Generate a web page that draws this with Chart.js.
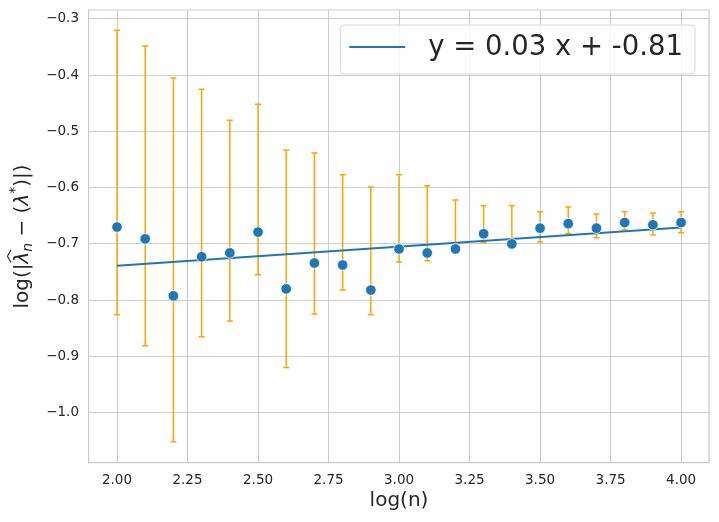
<!DOCTYPE html>
<html>
<head>
<meta charset="utf-8">
<script src="https://cdn.jsdelivr.net/npm/chart.js@4/dist/chart.umd.min.js"></script>
<style>
  html, body { margin: 0; padding: 0; background: #ffffff; }
  #wrap { position: relative; width: 719px; height: 522px; }
</style>
</head>
<body>
<div id="wrap"><canvas id="c"></canvas></div>
<script>
// ---- data ----
const logN = [2.0, 2.1, 2.2, 2.3, 2.4, 2.5, 2.6, 2.7, 2.8, 2.9, 3.0, 3.1, 3.2, 3.3, 3.4, 3.5, 3.6, 3.7, 3.8, 3.9, 4.0];
const logErr = [-0.670, -0.691, -0.7925, -0.723, -0.716, -0.679, -0.780, -0.734, -0.7375, -0.782, -0.709, -0.716, -0.709, -0.682, -0.700, -0.672, -0.664, -0.672, -0.662, -0.666, -0.662];
const errLow = [-0.826, -0.881, -1.052, -0.865, -0.837, -0.755, -0.920, -0.8245, -0.782, -0.826, -0.732, -0.730, -0.698, -0.698, -0.696, -0.6966, -0.682, -0.689, -0.675, -0.684, -0.680];
const errHigh = [-0.320, -0.348, -0.405, -0.425, -0.480, -0.4515, -0.533, -0.5385, -0.577, -0.599, -0.577, -0.5966, -0.622, -0.632, -0.632, -0.643, -0.6345, -0.647, -0.643, -0.645, -0.643];
const fitX = [2.0, 4.0];
const fitY = [-0.739, -0.671];
const fitLabel = 'y = 0.03 x + -0.81';
const xTicks = [2.00, 2.25, 2.50, 2.75, 3.00, 3.25, 3.50, 3.75, 4.00];
const yTicks = [-1.0, -0.9, -0.8, -0.7, -0.6, -0.5, -0.4, -0.3];
const xTitle = 'log(n)';

const FONT = "'DejaVu Sans', sans-serif";
const TXT = '#262626';
const GRID = '#cccccc';
const BLUE = '#1f77b4';
const ORANGE = '#FFA500';

const errorBarPlugin = {
  id: 'errorBars',
  beforeDatasetsDraw(chart) {
    const ctx = chart.ctx, xs = chart.scales.x, ys = chart.scales.y, area = chart.chartArea;
    ctx.save();
    // top and right spines
    ctx.strokeStyle = GRID;
    ctx.lineWidth = 1.2;
    ctx.beginPath();
    ctx.moveTo(area.left, area.top); ctx.lineTo(area.right, area.top); ctx.lineTo(area.right, area.bottom);
    ctx.stroke();
    ctx.strokeStyle = ORANGE;
    ctx.lineWidth = 1.5;
    for (let i = 0; i < logN.length; i++) {
      const px = xs.getPixelForValue(logN[i]);
      const y1 = ys.getPixelForValue(errLow[i]);
      const y2 = ys.getPixelForValue(errHigh[i]);
      ctx.beginPath();
      ctx.moveTo(px, y1); ctx.lineTo(px, y2);
      ctx.moveTo(px - 3, y1); ctx.lineTo(px + 3, y1);
      ctx.moveTo(px - 3, y2); ctx.lineTo(px + 3, y2);
      ctx.stroke();
    }
    ctx.restore();
  }
};

const decorPlugin = {
  id: 'decor',
  afterDraw(chart) {
    const ctx = chart.ctx, area = chart.chartArea;
    // ---- legend box ----
    const ds = chart.data.datasets[0];
    ctx.save();
    ctx.font = '27.5px ' + FONT;
    const tw = ctx.measureText(ds.label).width;
    const boxW = 9 + 56 + 23 + tw + 12;
    const boxH = 49;
    const bx = area.right - 14 - boxW;
    const by = area.top + 15;
    const r = 4;
    ctx.beginPath();
    ctx.moveTo(bx + r, by);
    ctx.arcTo(bx + boxW, by, bx + boxW, by + boxH, r);
    ctx.arcTo(bx + boxW, by + boxH, bx, by + boxH, r);
    ctx.arcTo(bx, by + boxH, bx, by, r);
    ctx.arcTo(bx, by, bx + boxW, by, r);
    ctx.closePath();
    ctx.fillStyle = 'rgba(255,255,255,0.8)';
    ctx.fill();
    ctx.strokeStyle = '#d6d6d6';
    ctx.lineWidth = 1;
    ctx.stroke();
    const cy = by + 22;
    ctx.strokeStyle = ds.borderColor;
    ctx.lineWidth = 2;
    ctx.beginPath();
    ctx.moveTo(bx + 9, cy); ctx.lineTo(bx + 65, cy);
    ctx.stroke();
    ctx.fillStyle = TXT;
    ctx.textBaseline = 'middle';
    ctx.textAlign = 'left';
    ctx.fillText(ds.label, bx + 88, cy + 1);
    ctx.restore();

    // ---- y axis title (mathtext-like) ----
    const pieces = [
      { t: 'log(|', f: '20px ' + FONT, dy: 0 },
      { t: 'λ', f: 'italic 20px ' + FONT, dy: 0, hat: true },
      { t: 'n', f: 'italic 14px ' + FONT, dy: 4 },
      { t: ' − ', f: '20px ' + FONT, dy: 0 },
      { t: '(', f: '20px ' + FONT, dy: 0 },
      { t: 'λ', f: 'italic 20px ' + FONT, dy: 0 },
      { t: '*', f: '14px ' + FONT, dy: -9 },
      { t: ')|)', f: '20px ' + FONT, dy: 0 }
    ];
    ctx.save();
    let total = 0;
    pieces.forEach(p => { ctx.font = p.f; p.w = ctx.measureText(p.t).width; total += p.w; });
    ctx.translate(28, (area.top + area.bottom) / 2);
    ctx.rotate(-Math.PI / 2);
    ctx.fillStyle = TXT;
    ctx.textBaseline = 'alphabetic';
    ctx.textAlign = 'left';
    let x = -total / 2;
    pieces.forEach(p => {
      ctx.font = p.f;
      ctx.fillText(p.t, x, p.dy);
      if (p.hat) {
        ctx.strokeStyle = TXT;
        ctx.lineWidth = 1.1;
        ctx.beginPath();
        ctx.moveTo(x + 1, -17);
        ctx.lineTo(x + p.w / 2 + 1.5, -20.5);
        ctx.lineTo(x + p.w + 2, -17);
        ctx.stroke();
      }
      x += p.w;
    });
    ctx.restore();
  }
};

const fmtMinus = v => (v < 0 ? '\u2212' : '') + Math.abs(v).toFixed(1);

new Chart(document.getElementById('c'), {
  type: 'scatter',
  data: {
    datasets: [
      {
        type: 'line',
        label: fitLabel,
        data: fitX.map((v, i) => ({ x: v, y: fitY[i] })),
        borderColor: BLUE,
        borderWidth: 2,
        pointRadius: 0,
        fill: false,
        order: 1
      },
      {
        type: 'scatter',
        label: 'points',
        data: logN.map((v, i) => ({ x: v, y: logErr[i] })),
        backgroundColor: BLUE,
        borderColor: '#ffffff',
        borderWidth: 0.8,
        pointRadius: 5.3,
        order: 0
      }
    ]
  },
  options: {
    responsive: true,
    maintainAspectRatio: false,
    animation: false,
    devicePixelRatio: 1,
    layout: { padding: { top: 10, right: 10, left: 0, bottom: 0 } },
    plugins: { legend: { display: false }, tooltip: { enabled: false } },
    scales: {
      x: {
        type: 'linear',
        min: 1.9007,
        max: 4.099,
        afterFit(s) { s.height = 59; s.paddingLeft = 0; s.paddingRight = 0; },
        afterBuildTicks(s) { s.ticks = xTicks.map(v => ({ value: v })); },
        grid: { color: GRID, lineWidth: 1, drawTicks: false },
        border: { color: GRID, width: 1.2 },
        ticks: {
          padding: 9,
          color: TXT,
          font: { family: FONT, size: 13.5 },
          maxRotation: 0,
          callback: v => v.toFixed(2)
        },
        title: {
          display: true,
          text: xTitle,
          color: TXT,
          font: { family: FONT, size: 20 },
          padding: { top: 0, bottom: 9 }
        }
      },
      y: {
        type: 'linear',
        min: -1.0897,
        max: -0.284,
        afterFit(s) { s.width = 89; s.paddingTop = 0; s.paddingBottom = 0; },
        afterBuildTicks(s) { s.ticks = yTicks.map(v => ({ value: v })); },
        grid: { color: GRID, lineWidth: 1, drawTicks: false },
        border: { color: GRID, width: 1.2 },
        ticks: {
          padding: 10,
          color: TXT,
          font: { family: FONT, size: 13.5 },
          callback: v => fmtMinus(v)
        }
      }
    }
  },
  plugins: [errorBarPlugin, decorPlugin]
});
</script>
</body>
</html>
